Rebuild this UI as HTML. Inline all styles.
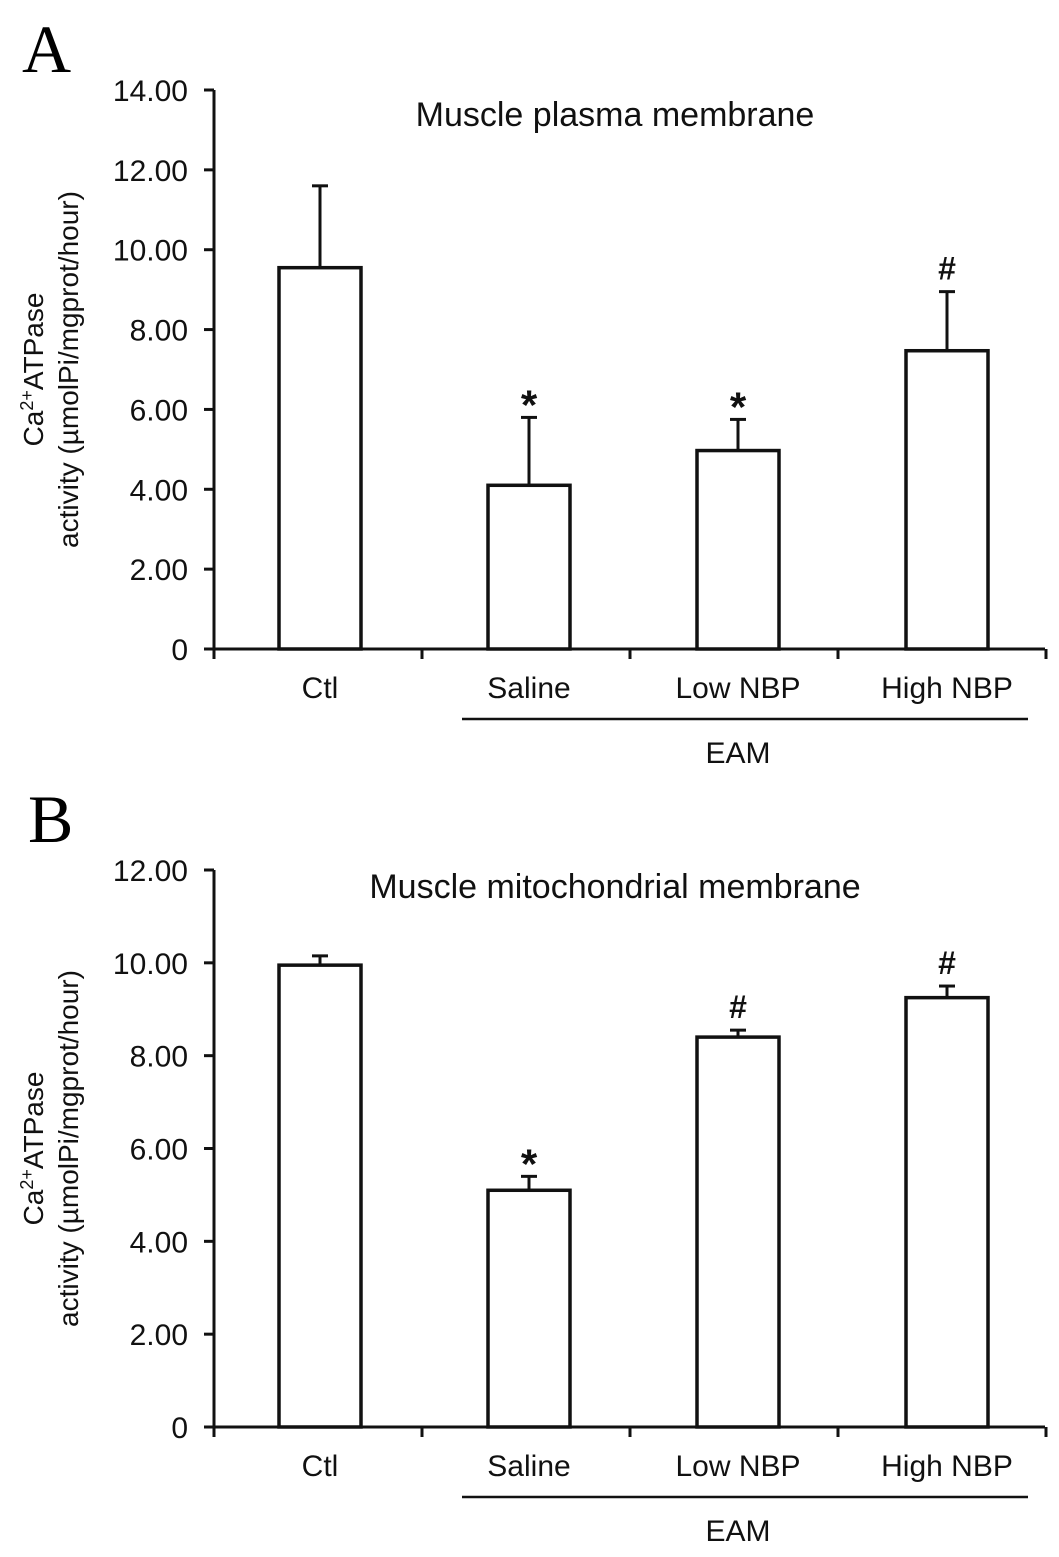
<!DOCTYPE html>
<html><head><meta charset="utf-8"><style>
body{margin:0;background:#fff;}
svg{display:block;font-family:"Liberation Sans",sans-serif;}
</style></head><body>
<svg id="fig" width="1059" height="1557" viewBox="0 0 1059 1557">
<text x="22" y="72" font-family="Liberation Serif,serif" font-size="68">A</text>
<text x="28" y="842" font-family="Liberation Serif,serif" font-size="68">B</text>
</svg>
<script>
const categories = ["Ctl","Saline","Low NBP","High NBP"];
const valuesA = [9.55, 4.1, 4.97, 7.47];
const errorsA = [2.05, 1.7, 0.78, 1.48];
const marksA = ["", "*", "*", "#"];
const ticksA = [0,2,4,6,8,10,12,14];
const tickLabelsA = ["0","2.00","4.00","6.00","8.00","10.00","12.00","14.00"];
const valuesB = [9.95, 5.1, 8.4, 9.25];
const errorsB = [0.2, 0.3, 0.15, 0.25];
const marksB = ["", "*", "#", "#"];
const ticksB = [0,2,4,6,8,10,12];
const tickLabelsB = ["0","2.00","4.00","6.00","8.00","10.00","12.00"];

const svg = document.getElementById('fig');
const NS = 'http://www.w3.org/2000/svg';
function mk(tag, attrs, text){
  const e = document.createElementNS(NS, tag);
  for (const k in attrs) e.setAttribute(k, attrs[k]);
  if (text !== undefined) e.textContent = text;
  svg.appendChild(e);
  return e;
}
function panel(p, vals, errs, marks, ticks, tickLabels, title, titleY, y0, yTop, yMax){
  const xAxis = 214, xEnd = 1045;
  const yScale = v => y0 - (y0 - yTop) * v / yMax;
  const band = 208;
  const xCenter = i => 320 + i * 209;
  const bw = 82;
  let e;
  e = mk('line', {x1:xAxis, y1:yTop, x2:xAxis, y2:y0+10, stroke:'#111', 'stroke-width':3});
  
  
  e = mk('line', {x1:xAxis-10, y1:y0, x2:xEnd, y2:y0, stroke:'#111', 'stroke-width':3});
  
  
  for (let i=0;i<=4;i++){
    const x = xAxis + i*band;
    e = mk('line', {x1:x, y1:y0, x2:x, y2:y0+10, stroke:'#111', 'stroke-width':3});
    
    
  }
  ticks.forEach((t,i)=>{
    const y = yScale(t);
    e = mk('line', {x1:xAxis-10, y1:y, x2:xAxis, y2:y, stroke:'#111', 'stroke-width':3});
    
    
    e = mk('text', {x:xAxis-26, y:y+11, 'text-anchor':'end', 'font-size':30, fill:'#111'}, tickLabels[i]);
    
    
  });
  vals.forEach((v,i)=>{
    const cx = xCenter(i), yt = yScale(v), ye = yScale(v+errs[i]);
    e = mk('line', {x1:cx, y1:yt, x2:cx, y2:ye, stroke:'#111', 'stroke-width':3});
    
    
    e = mk('line', {x1:cx-8, y1:ye, x2:cx+8, y2:ye, stroke:'#111', 'stroke-width':3});
    
    
    e = mk('rect', {x:cx-bw/2, y:yt, width:bw, height:y0-yt, fill:'#fff', stroke:'#111', 'stroke-width':3.5});
    
    
    if (marks[i]){
      const star = marks[i]==='*';
      e = mk('text', {x:cx, y: star ? ye+2 : ye-12, 'text-anchor':'middle', 'font-size': star ? 42 : 32, 'font-weight':'bold', fill:'#111'}, marks[i]);
      
      
    }
    e = mk('text', {x:cx, y:y0+49, 'text-anchor':'middle', 'font-size':30, fill:'#111'}, categories[i]);
    
    
  });
  e = mk('line', {x1:462, y1:y0+70, x2:1028, y2:y0+70, stroke:'#111', 'stroke-width':2.5});
  
  
  e = mk('text', {x:738, y:y0+114, 'text-anchor':'middle', 'font-size':30, fill:'#111'}, 'EAM');
  
  
  e = mk('text', {x:615, y:titleY, 'text-anchor':'middle', 'font-size':34, fill:'#111'}, title);
  
  
  const cy = (y0+yTop)/2;
  e = mk('text', {x:0, y:0, 'text-anchor':'middle', 'font-size':28, fill:'#111', transform:'translate(43,'+cy+') rotate(-90)'});
  e.innerHTML = 'Ca<tspan font-size="18" dy="-10">2+</tspan><tspan dy="10">ATPase</tspan>';
  
  
  e = mk('text', {x:0, y:0, 'text-anchor':'middle', 'font-size':28, fill:'#111', transform:'translate(78,'+cy+') rotate(-90)'}, 'activity (\u00b5molPi/mgprot/hour)');
  
  
}
panel('a', valuesA, errorsA, marksA, ticksA, tickLabelsA, 'Muscle plasma membrane', 126, 649, 90, 14);
panel('b', valuesB, errorsB, marksB, ticksB, tickLabelsB, 'Muscle mitochondrial membrane', 898, 1427, 870, 12);
</script>
</body></html>
